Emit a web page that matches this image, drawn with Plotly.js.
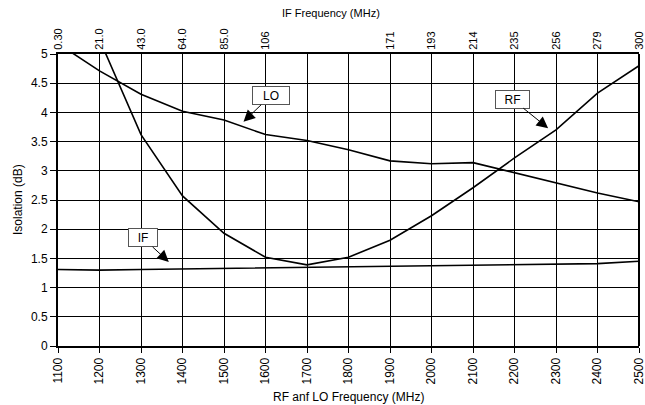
<!DOCTYPE html>
<html><head><meta charset="utf-8">
<script src="https://cdn.plot.ly/plotly-3.0.1.min.js"></script>
<style>html,body{margin:0;padding:0;background:#fff}#c{width:645px;height:405px}</style>
</head><body><div id="c"></div>
<script>
const freq = [1100,1200,1300,1400,1500,1600,1700,1800,1900,2000,2100,2200,2300,2400,2500];
const loIso = [5.18,4.71,4.31,4.02,3.87,3.62,3.52,3.36,3.17,3.12,3.14,2.97,2.80,2.62,2.47];
const rfIso = [null,5.25,3.62,2.57,1.93,1.52,1.39,1.52,1.81,2.23,2.71,3.22,3.70,4.33,4.80];
const ifIso = [1.31,1.30,1.31,1.32,1.33,1.34,1.345,1.35,1.36,1.37,1.38,1.39,1.41,1.41,1.45];
const ifTickVals = [1100,1200,1300,1400,1500,1600,1900,2000,2100,2200,2300,2400,2500];
const ifTickText = ['0.30','21.0','43.0','64.0','85.0','106','171','193','214','235','256','279','300'];

const line = {color:'#000', width:1.6};
const traces = [
  {x:freq, y:loIso, mode:'lines', line:line, name:'LO', showlegend:false},
  {x:freq, y:rfIso, mode:'lines', line:line, name:'RF', showlegend:false, connectgaps:false},
  {x:freq, y:ifIso, mode:'lines', line:line, name:'IF', showlegend:false},
  {x:[freq[0]], y:[null], xaxis:'x2', mode:'lines', showlegend:false}
];
const ff = '"Liberation Sans", Arial, sans-serif';
const font = {family:ff, color:'#000'};
function ann(text, x, y, ax, ay, w){
  return {x:x, y:y, xref:'x', yref:'y', text:text, showarrow:true, ax:ax, ay:ay,
    arrowhead:2, arrowsize:2.3, arrowwidth:1, arrowcolor:'#000',
    width:w, height:15, align:'center',
    bgcolor:'#fff', bordercolor:'#555', borderwidth:1, borderpad:1,
    font:{family:ff, size:12, color:'#000'}};
}
const layout = {
  width:645, height:405,
  margin:{l:58, r:6, t:54, b:59},
  paper_bgcolor:'#fff', plot_bgcolor:'#fff',
  font:font,
  xaxis:{range:[1100,2500], dtick:100, tick0:1100, tickangle:-90, showgrid:true, gridcolor:'#000', gridwidth:1,
    showline:true, linecolor:'#000', linewidth:2, mirror:false, ticks:'outside', ticklen:5, tickcolor:'#000',
    tickfont:{size:12}, zeroline:false, ticklabeloverflow:'allow', automargin:false},
  xaxis2:{overlaying:'x', side:'top', range:[1100,2500], tickmode:'array', tickvals:ifTickVals, ticktext:ifTickText,
    tickangle:-90, showgrid:false, showline:true, linecolor:'#000', linewidth:2, ticks:'', tickfont:{size:11},
    ticklabeloverflow:'allow', automargin:false},
  yaxis:{range:[0,5], dtick:0.5, showgrid:true, gridcolor:'#000', gridwidth:1, showline:true, linecolor:'#000', linewidth:2,
    mirror:false, ticks:'outside', ticklen:6, tickcolor:'#000', tickfont:{size:12}, zeroline:false, automargin:false},
  shapes:[{type:'line', xref:'paper', yref:'paper', x0:1, x1:1, y0:0, y1:1, line:{color:'#000', width:2}}],
  annotations:[
    ann('LO', 1547, 3.84, 27, -26, 34),
    ann('RF', 2281, 3.73, -36, -29, 31),
    ann('IF', 1367, 1.44, -26, -24, 26),
    {xref:'paper', yref:'paper', x:0.47, y:1.140, xanchor:'center', yanchor:'middle', showarrow:false,
     text:'IF Frequency (MHz)', font:{family:ff, size:11, color:'#000'}},
    {xref:'paper', yref:'paper', x:0.5, y:-0.1747, xanchor:'center', yanchor:'middle', showarrow:false,
     text:'RF anf LO Frequency (MHz)', font:{family:ff, size:12, color:'#000'}},
    {xref:'paper', yref:'paper', x:-0.069, y:0.503, xanchor:'center', yanchor:'middle', showarrow:false, textangle:-90,
     text:'Isolation (dB)', font:{family:ff, size:12, color:'#000'}}
  ]
};
Plotly.newPlot('c', traces, layout, {displayModeBar:false, staticPlot:true});
</script></body></html>
